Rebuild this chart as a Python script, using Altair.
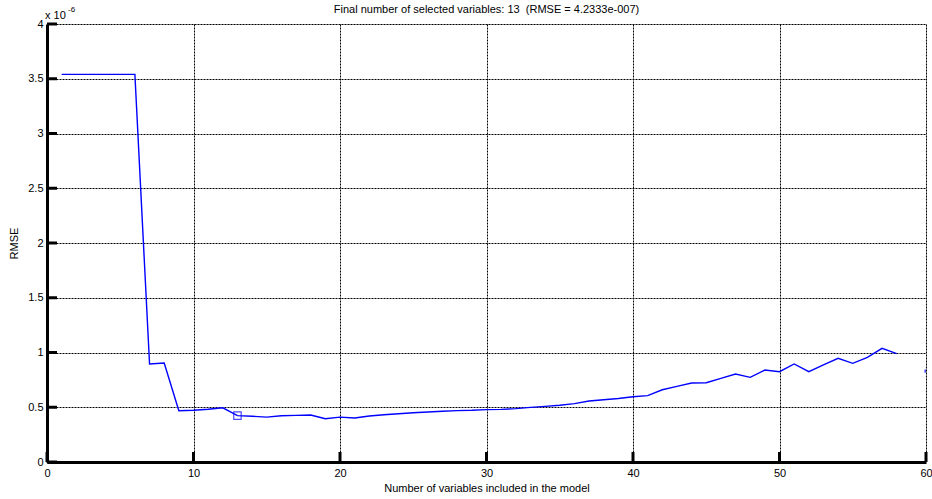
import altair as alt
import pandas as pd

n_vars = list(range(1, 59))
rmse_e6 = [3.54, 3.54, 3.54, 3.54, 3.54, 3.54, 0.895, 0.904, 0.468, 0.472,
           0.482, 0.495, 0.4233, 0.418, 0.410, 0.423, 0.426, 0.429, 0.395, 0.410,
           0.402, 0.420, 0.432, 0.441, 0.450, 0.457, 0.463, 0.469, 0.472, 0.478,
           0.481, 0.487, 0.499, 0.508, 0.518, 0.533, 0.557, 0.569, 0.580, 0.596,
           0.606, 0.660, 0.691, 0.721, 0.724, 0.764, 0.804, 0.773, 0.840, 0.825,
           0.895, 0.825, 0.886, 0.947, 0.901, 0.956, 1.038, 0.989]
best_x = [13]
best_y = [0.42333]
edge_x = [60]
edge_y = [0.83]
x_ticks = [0, 10, 20, 30, 40, 50, 60]
y_ticks = [0, 0.5, 1, 1.5, 2, 2.5, 3, 3.5, 4]
title_text = "Final number of selected variables: 13\u00a0 (RMSE = 4.2333e-007)"

W, H = 879, 438
FONT = "Liberation Sans"

df = pd.DataFrame({"x": n_vars, "y": rmse_e6})
xs = alt.Scale(domain=[0, 60], nice=False, zero=False)
ys = alt.Scale(domain=[0, 4], nice=False, zero=False)

base_axis_x = alt.Axis(values=x_ticks, grid=True, gridDash=[2, 1], gridColor="#000",
                       gridOpacity=1, gridWidth=1, domainColor="#000", domainWidth=3, ticks=False,
                       labelFont=FONT, labelFontSize=11, labelColor="#000", labelPadding=5,
                       title="Number of variables included in the model", titleFont=FONT,
                       titleFontSize=11, titleFontWeight="normal", titleColor="#000",
                       titlePadding=4, labelFlush=False)
base_axis_y = alt.Axis(values=y_ticks, grid=True, gridDash=[2, 1], gridColor="#000",
                       gridOpacity=1, gridWidth=1, domainColor="#000", domainWidth=3, ticks=False,
                       labelFont=FONT, labelFontSize=11, labelColor="#000", labelPadding=4,
                       title="RMSE", titleFont=FONT, titleFontSize=11, titleFontWeight="normal",
                       titleColor="#000", titlePadding=8, labelFlush=False,
                       labelExpr="datum.value")

line = alt.Chart(df).mark_line(color="#0000ff", strokeWidth=1.4, clip=True).encode(
    x=alt.X("x:Q", scale=xs, axis=base_axis_x),
    y=alt.Y("y:Q", scale=ys, axis=base_axis_y),
)

best = alt.Chart(pd.DataFrame({"x": best_x, "y": best_y})).mark_point(
    shape="square", filled=False, color="#0000ff", size=55, strokeWidth=1.2
).encode(x=alt.X("x:Q", scale=xs), y=alt.Y("y:Q", scale=ys))

edge = alt.Chart(pd.DataFrame({"x": edge_x, "y": edge_y})).mark_point(
    shape="square", filled=True, color="#0000ff", size=10, clip=True
).encode(x=alt.X("x:Q", scale=xs), y=alt.Y("y:Q", scale=ys))

yt = alt.Chart(pd.DataFrame({"v": y_ticks})).mark_rule(color="#000", strokeWidth=3).encode(
    y=alt.Y("v:Q", scale=ys), x=alt.value(0), x2=alt.value(10))
xt = alt.Chart(pd.DataFrame({"v": x_ticks})).mark_rule(color="#000", strokeWidth=3).encode(
    x=alt.X("v:Q", scale=xs), y=alt.value(H), y2=alt.value(H - 10))

mult = alt.Chart(pd.DataFrame({"x": [0], "y": [4], "t": ["x 10"]})).mark_text(
    font=FONT, fontSize=11, align="left", baseline="bottom", dx=-2, dy=-3, color="#000"
).encode(x=alt.X("x:Q", scale=xs), y=alt.Y("y:Q", scale=ys), text="t:N")
expo = alt.Chart(pd.DataFrame({"x": [0], "y": [4], "t": ["-6"]})).mark_text(
    font=FONT, fontSize=8, align="left", baseline="bottom", dx=21, dy=-10, color="#000"
).encode(x=alt.X("x:Q", scale=xs), y=alt.Y("y:Q", scale=ys), text="t:N")

ttl = alt.Chart(pd.DataFrame({"x": [30], "y": [4], "t": [title_text]})).mark_text(
    font=FONT, fontSize=11, align="center", baseline="middle", dy=-14, color="#000"
).encode(x=alt.X("x:Q", scale=xs), y=alt.Y("y:Q", scale=ys), text="t:N")

chart = alt.layer(line, best, edge, yt, xt, mult, expo, ttl).properties(
    width=W, height=H,
    autosize=alt.AutoSizeParams(type="none"),
    padding={"left": 47, "top": 24, "right": 6, "bottom": 37},
).configure_view(stroke=None).configure(background="white")

chart.save("out.html", embed_options={"renderer": "svg", "actions": False})
